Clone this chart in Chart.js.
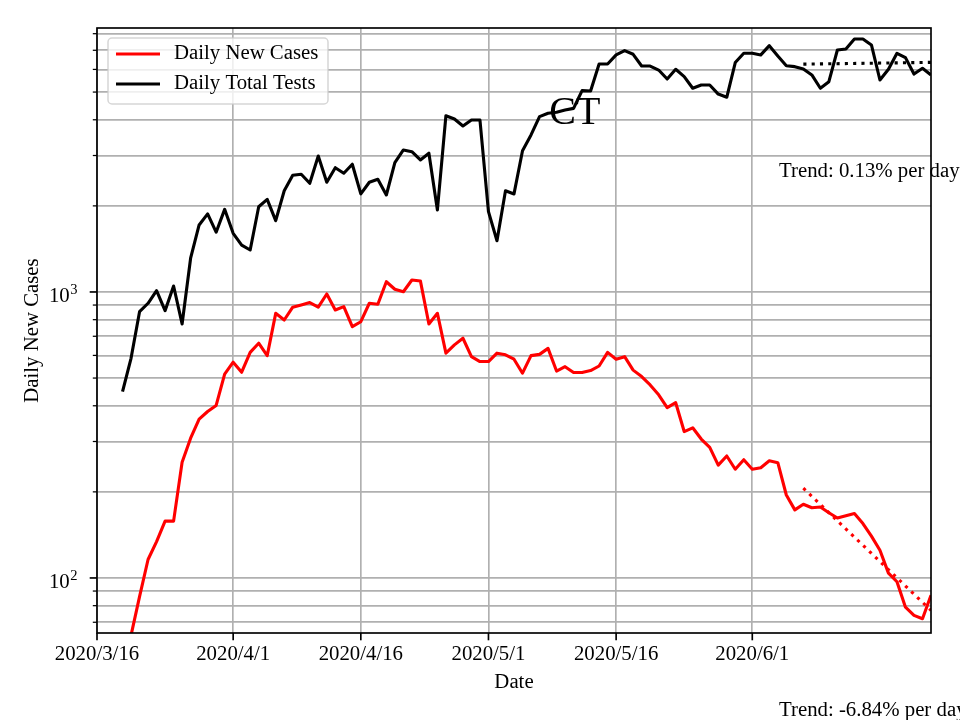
<!DOCTYPE html>
<html>
<head>
<meta charset="utf-8">
<script src="https://cdn.jsdelivr.net/npm/chart.js@4.4.1/dist/chart.umd.min.js"></script>
<style>
body { margin: 0; background: #fff; }
canvas { display: block; }
</style>
</head>
<body>
<canvas id="ctChart" width="960" height="720"></canvas>
<script>
// days are counted from 2020/3/16 (day 0)
const firstDay = 3; // first data point = 2020/3/19
const lastDay = 98; // 2020/6/22

const newCases = [45, 63, 86, 116, 134, 158, 158, 254, 308, 359,
    382, 401, 516, 568, 524, 615, 662, 599, 842, 798,
    885, 901, 918, 885, 984, 865, 889, 756, 787, 913,
    906, 1086, 1022, 1002, 1101, 1093, 773, 842, 611, 653,
    689, 594, 571, 571, 611, 603, 582, 520, 599, 605,
    635, 529, 548, 523, 523, 531, 551, 615, 582, 594,
    533, 506, 473, 437, 394, 410, 325, 335, 306, 286,
    248, 267, 240, 259, 240, 243, 257, 253, 195, 173,
    181, 176, 177, 169, 162, 165, 168, 155, 140, 125,
    104, 97, 79, 74, 72, 87];

const totalTests = [448, 586, 853, 913, 1010, 860, 1049, 773, 1312, 1715,
    1875, 1618, 1945, 1603, 1459, 1402, 1986, 2108, 1775, 2259,
    2558, 2580, 2399, 2989, 2419, 2720, 2601, 2796, 2202, 2419,
    2477, 2183, 2833, 3137, 3094, 2894, 3055, 1935, 4134, 4027,
    3805, 3992, 3992, 1909, 1511, 2259, 2202, 3119, 3540, 4102,
    4215, 4250, 4325, 4385, 5058, 5045, 6270, 6270, 6743, 6978,
    6777, 6166, 6166, 5970, 5555, 6006, 5665, 5155, 5295, 5295,
    4920, 4795, 6340, 6833, 6833, 6743, 7265, 6682, 6180, 6135,
    6025, 5740, 5155, 5435, 7015, 7075, 7665, 7665, 7305, 5510,
    6007, 6833, 6597, 5780, 6055, 5740];

// fitted trends over the last days
const trendDays = [83, 98];
const casesTrend = [206, 77];
const testsTrend = [6260, 6350];

const dateTicks = [0, 16, 31, 46, 61, 77];
const dateLabels = ['2020/3/16', '2020/4/1', '2020/4/16', '2020/5/1', '2020/5/16', '2020/6/1'];

const yTicks = [70, 80, 90, 100, 200, 300, 400, 500, 600, 700, 800, 900,
    1000, 2000, 3000, 4000, 5000, 6000, 7000, 8000];
const yMajor = [100, 1000];
const yMajorExp = ['2', '3'];

const FONT = "'Liberation Serif', 'Times New Roman', serif";
const FS = 20.8;

function toPoints(days, values) {
    return values.map((v, i) => ({ x: days[i], y: v }));
}
function dailyPoints(values) {
    return values.map((v, i) => ({ x: firstDay + i, y: v }));
}

const decor = {
    id: 'decor',
    afterDatasetsDraw(chart) {
        const { ctx, chartArea: a, scales: { x, y } } = chart;
        ctx.save();
        ctx.strokeStyle = '#000';
        // ticks on x
        ctx.lineWidth = 1.67;
        dateTicks.forEach(d => {
            const px = x.getPixelForValue(d);
            ctx.beginPath();
            ctx.moveTo(px, a.bottom);
            ctx.lineTo(px, a.bottom + 7.3);
            ctx.stroke();
        });
        // ticks on y
        yTicks.forEach(v => {
            const py = y.getPixelForValue(v);
            const major = yMajor.includes(v);
            ctx.lineWidth = major ? 1.67 : 1.25;
            ctx.beginPath();
            ctx.moveTo(a.left, py);
            ctx.lineTo(a.left - (major ? 7.3 : 4.2), py);
            ctx.stroke();
        });
        // spines
        ctx.lineWidth = 1.67;
        ctx.strokeRect(a.left, a.top, a.right - a.left, a.bottom - a.top);

        // y labels 10^n
        ctx.fillStyle = '#000';
        ctx.textAlign = 'right';
        ctx.textBaseline = 'alphabetic';
        yMajor.forEach((v, k) => {
            const py = y.getPixelForValue(v);
            const right = a.left - 19.5;
            ctx.font = (FS * 0.7) + 'px ' + FONT;
            const w = ctx.measureText(yMajorExp[k]).width;
            ctx.fillText(yMajorExp[k], right, py + 2.5);
            ctx.font = FS + 'px ' + FONT;
            ctx.fillText('10', right - w - 0.5, py + 10.5);
        });

        // legend
        const lx = 108, ly = 38, lw = 220, lh = 66;
        ctx.beginPath();
        ctx.roundRect(lx, ly, lw, lh, 4);
        ctx.fillStyle = 'rgba(255,255,255,0.8)';
        ctx.fill();
        ctx.strokeStyle = 'rgba(204,204,204,0.8)';
        ctx.lineWidth = 1.5;
        ctx.stroke();
        const shown = chart.data.datasets.filter(ds => ds.label);
        ctx.font = FS + 'px ' + FONT;
        ctx.textAlign = 'left';
        ctx.textBaseline = 'middle';
        shown.forEach((ds, k) => {
            const yy = 54 + k * 30;
            ctx.strokeStyle = ds.borderColor;
            ctx.lineWidth = 3.1;
            ctx.beginPath();
            ctx.moveTo(116, yy);
            ctx.lineTo(160, yy);
            ctx.stroke();
            ctx.fillStyle = '#000';
            ctx.fillText(ds.label, 174, yy);
        });

        // texts
        ctx.textBaseline = 'alphabetic';
        ctx.fillStyle = '#000';
        ctx.font = '40px ' + FONT;
        ctx.textAlign = 'center';
        ctx.fillText('CT', a.left + 0.573 * (a.right - a.left), 124);
        ctx.font = FS + 'px ' + FONT;
        ctx.textAlign = 'left';
        ctx.fillText('Trend: 0.13% per day', 779, 177);
        ctx.fillText('Trend: -6.84% per day', 779, 716);
        ctx.restore();
    }
};

const chart = new Chart(document.getElementById('ctChart').getContext('2d'), {
    type: 'line',
    data: {
        datasets: [
            {
                label: 'Daily New Cases',
                data: dailyPoints(newCases),
                borderColor: '#ff0000',
                borderWidth: 3.1,
                borderJoinStyle: 'round',
                pointRadius: 0,
                clip: 0
            },
            {
                label: 'Daily Total Tests',
                data: dailyPoints(totalTests),
                borderColor: '#000000',
                borderWidth: 3.1,
                borderJoinStyle: 'round',
                pointRadius: 0,
                clip: 0
            },
            {
                label: '',
                data: toPoints(trendDays, casesTrend),
                borderColor: '#ff0000',
                borderWidth: 3.1,
                borderDash: [3.1, 5.2],
                pointRadius: 0,
                clip: 0
            },
            {
                label: '',
                data: toPoints(trendDays, testsTrend),
                borderColor: '#000000',
                borderWidth: 3.1,
                borderDash: [3.1, 5.2],
                pointRadius: 0,
                clip: 0
            }
        ]
    },
    options: {
        responsive: false,
        animation: false,
        layout: { padding: { left: 0, right: 29, top: 28, bottom: 0 } },
        plugins: {
            legend: { display: false },
            tooltip: { enabled: false }
        },
        scales: {
            x: {
                type: 'linear',
                min: 0,
                max: lastDay,
                afterBuildTicks: s => { s.ticks = dateTicks.map(v => ({ value: v })); },
                afterFit: s => { s.height = 87; },
                ticks: {
                    autoSkip: false,
                    maxRotation: 0,
                    padding: 9,
                    color: '#000',
                    font: { family: FONT, size: FS },
                    callback: v => dateLabels[dateTicks.indexOf(v)]
                },
                grid: { color: '#b0b0b0', lineWidth: 1.67, drawTicks: false },
                border: { display: false },
                title: {
                    display: true,
                    text: 'Date',
                    color: '#000',
                    font: { family: FONT, size: FS },
                    padding: { top: 0, bottom: 24.5 }
                }
            },
            y: {
                type: 'logarithmic',
                min: 64.2,
                max: 8375,
                afterBuildTicks: s => { s.ticks = yTicks.map(v => ({ value: v })); },
                afterFit: s => { s.width = 97; },
                ticks: { display: false },
                grid: { color: '#b0b0b0', lineWidth: 1.67, drawTicks: false },
                border: { display: false },
                title: {
                    display: true,
                    text: 'Daily New Cases',
                    color: '#000',
                    font: { family: FONT, size: FS },
                    padding: { top: 20.5, bottom: 0 }
                }
            }
        }
    },
    plugins: [decor]
});
</script>
</body>
</html>
